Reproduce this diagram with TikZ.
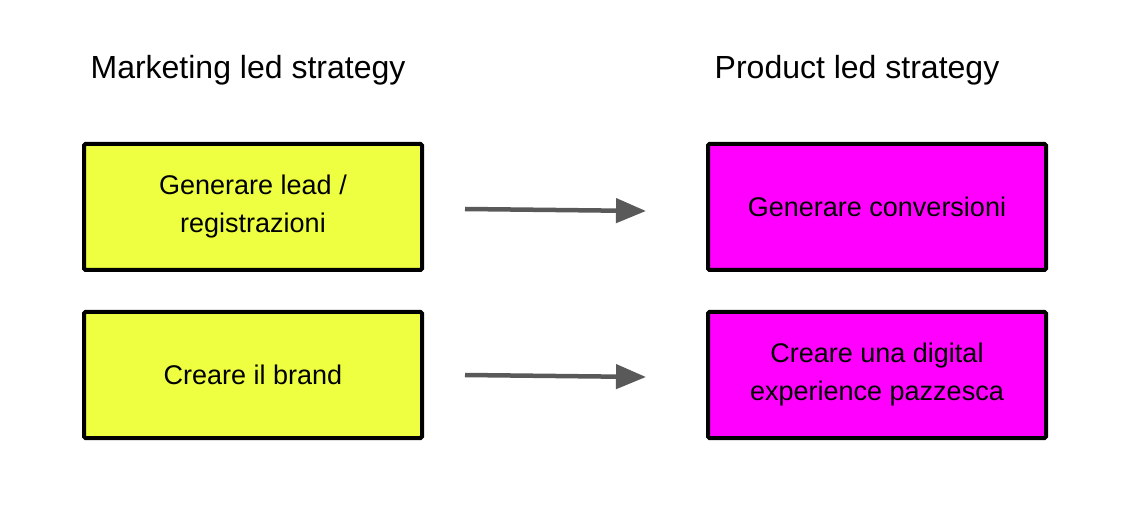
\documentclass[tikz,border=0pt]{standalone}
\usepackage{fontspec}
\setmainfont{Liberation Sans}
\usetikzlibrary{arrows.meta, positioning, calc}
\definecolor{LeadYellow}{HTML}{EEFF41}
\definecolor{ProdMagenta}{HTML}{FF00FF}
\definecolor{ArrowGray}{HTML}{595959}

\begin{document}
\begin{tikzpicture}[x=1pt, y=1pt, >=Stealth, thick,
    goalbox/.style={draw=black, line width=4pt, rounded corners=1.5pt,
        minimum width=338pt, minimum height=126pt, align=center,
        font=\fontsize{27}{38}\selectfont},
    shiftarrow/.style={ArrowGray, line width=4.5pt,
        -{Triangle[length=30pt, width=24pt]}},
    heading/.style={font=\fontsize{32}{38}\selectfont}]
        \useasboundingbox (0,0) rectangle (1146,-518);
        % Column headings
        \node [heading] (mkt) at (248,-70) {Marketing led strategy};
        \node [heading] (prd) at (857,-70) {Product led strategy};
        % Marketing led goals
        \node [goalbox, fill=LeadYellow] (lead) at (253,-207) {Generare lead /\\registrazioni};
        \node [goalbox, fill=LeadYellow] (brand) at (253,-375) {Creare il brand};
        % Product led goals
        \node [goalbox, fill=ProdMagenta] (conv) at (877,-207) {Generare conversioni};
        \node [goalbox, fill=ProdMagenta] (exper) at (877,-375) {Creare una digital\\experience pazzesca};
        % Shifts
        \draw [shiftarrow] ([xshift=41pt, yshift=-2pt]lead.east) -- ([xshift=-60pt, yshift=-4pt]conv.west);
        \draw [shiftarrow] ([xshift=41pt, yshift=0pt]brand.east) -- ([xshift=-60pt, yshift=-2pt]exper.west);
    \end{tikzpicture}
\end{document}
